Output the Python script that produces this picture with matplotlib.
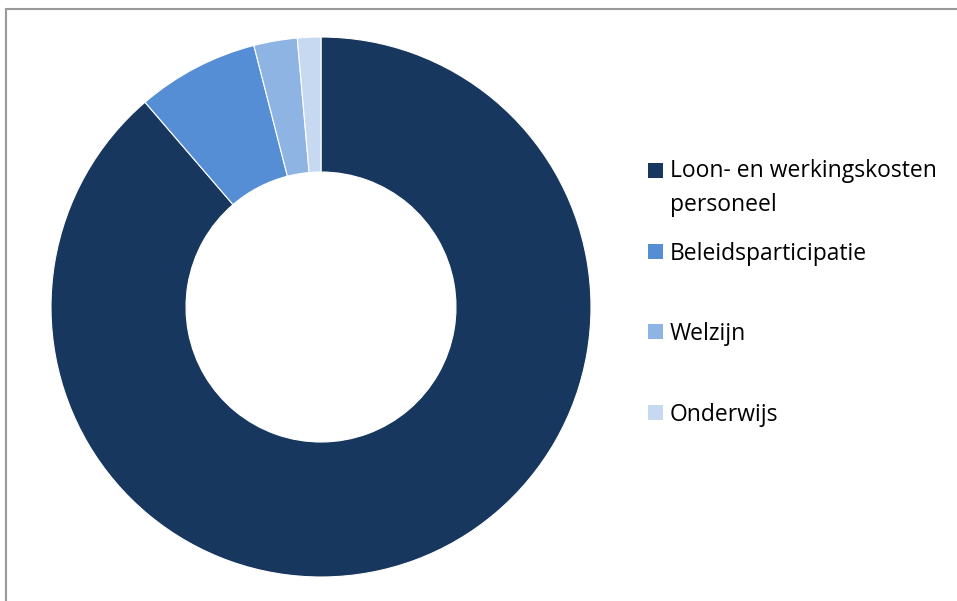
import matplotlib
matplotlib.use("Agg")
import matplotlib.pyplot as plt
from matplotlib.patches import Rectangle

# data (aandeel in %)
labels = ["Loon- en werkingskosten\npersoneel", "Beleidsparticipatie", "Welzijn", "Onderwijs"]
values = [88.7, 7.3, 2.6, 1.4]
colors = ["#17375E", "#558ED5", "#8EB4E3", "#C6D9F1"]

W, H = 957, 601
fig = plt.figure(figsize=(W / 100, H / 100), dpi=100)
fig.patch.set_facecolor("white")

# rand van het grafiekgebied
fig.patches.append(Rectangle((6 / W, -0.05), 1.2, 1 - 9 / H + 0.05, transform=fig.transFigure,
                             fill=False, edgecolor="#999999", linewidth=1.5))

# donut
cx, cy, r = 321, 307, 270
ax = fig.add_axes([(cx - r) / W, (H - cy - r) / H, 2 * r / W, 2 * r / H])
ax.pie(values, colors=colors, startangle=90, counterclock=False, radius=1,
       wedgeprops=dict(width=0.5, edgecolor="white", linewidth=0.8))
ax.set_xlim(-1, 1)
ax.set_ylim(-1, 1)
ax.set_aspect("equal")
ax.axis("off")

# legenda (marker bij de eerste regel van het label)
ys = [170.5, 251.5, 331.5, 412.5]
for lab, col, y in zip(labels, colors, ys):
    fig.patches.append(Rectangle((648 / W, (H - y - 7.5) / H), 15 / W, 15 / H,
                                 transform=fig.transFigure, facecolor=col, edgecolor="none"))
    extra = 32 * lab.count("\n")  # baseline hoort bij de laatste regel
    fig.text(670 / W, (H - y - 8.5 - extra) / H, lab, fontsize=16.5, family="Open Sans",
             va="baseline", ha="left", color="black", linespacing=1.56)

fig.savefig("out.png", dpi=100)
